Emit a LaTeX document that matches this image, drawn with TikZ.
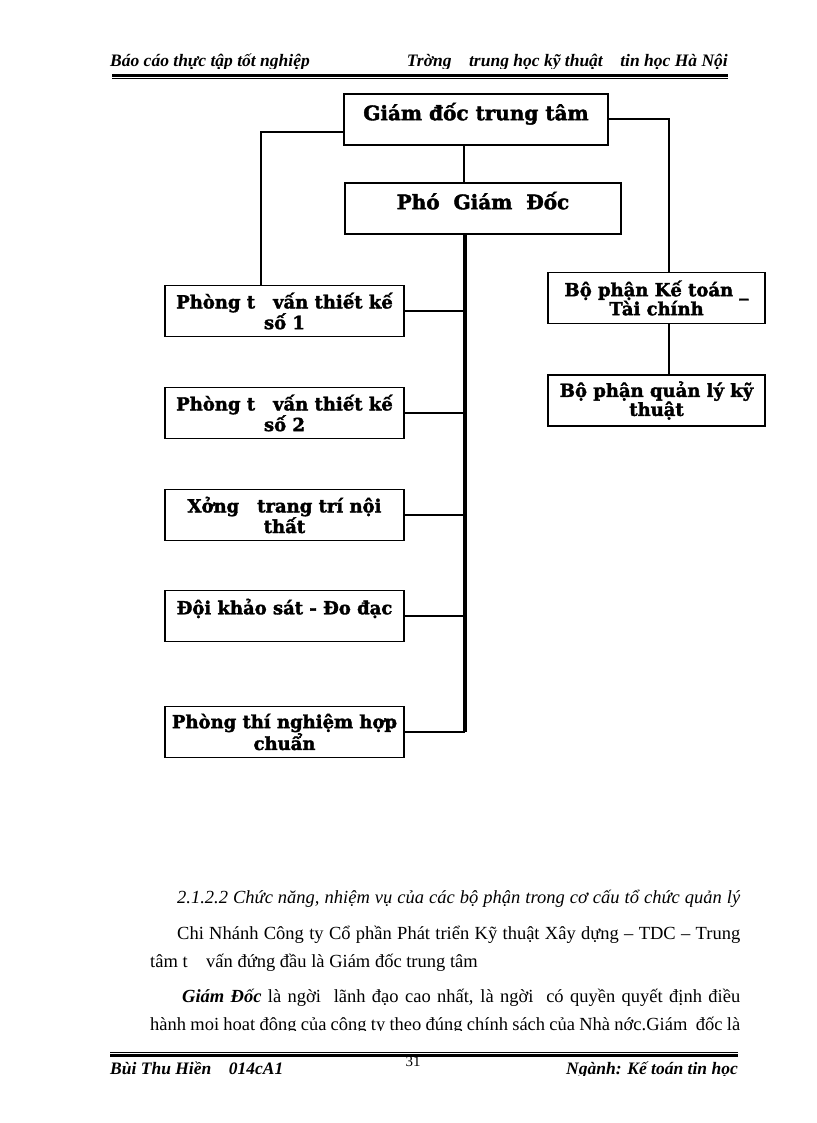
\documentclass[tikz,border=0pt]{standalone}
\usepackage{fontspec}
\setmainfont{Liberation Serif}
\newfontfamily\boxfont{DejaVu Serif}[BoldFeatures={FakeBold=2}]

\begin{document}
\begin{tikzpicture}[x=1pt,y=-1pt,
  box/.style={draw,line width=1.2pt,minimum width=#1,minimum height=51pt,inner sep=0pt,align=center,
    font=\boxfont\bfseries\fontsize{18}{19}\selectfont},
  bigbox/.style={box=#1,font=\boxfont\bfseries\fontsize{20}{16}\selectfont},
  link/.style={line width=1.8pt},
  trunkline/.style={line width=4pt},
  rule/.style={line width=#1},
  hdr/.style={inner sep=0pt,font=\bfseries\itshape\fontsize{17.5}{18}\selectfont},
  body/.style={inner sep=0pt,anchor=base west,font=\fontsize{18.5}{28}\selectfont}]

\useasboundingbox (0,0) rectangle (816,1123);

% header
\begin{scope}
\clip (0,0) rectangle (816,69);
\node[hdr,anchor=base west] (hleft) at (110,67) {Báo cáo thực tập tốt nghiệp};
\node[hdr,anchor=base east] (hright) at (728,67) {Trờng\quad trung học kỹ thuật\quad tin học Hà Nội};
\end{scope}
\draw[rule=2.5pt] (112,75.5) -- (728,75.5);
\draw[rule=1pt] (112,79) -- (728,79);

% boxes
\node[bigbox=264] (gd) at (476,119.5) {Giám đốc trung tâm\\\mbox{}};
\node[bigbox=276] (pgd) at (483,208.5) {Phó\ \ Giám\ \ Đốc\\\mbox{}};
\node[box=239] (p1) at (284.5,311) {Phòng t\quad vấn thiết kế\\số 1};
\node[box=239] (p2) at (284.5,413) {Phòng t\quad vấn thiết kế\\số 2};
\node[box=239] (xuong) at (284.5,515) {Xởng\quad trang trí nội\\thất};
\node[box=239] (doi) at (284.5,616) {Đội khảo sát - Đo đạc\\\mbox{}};
\node[box=239] (ptn) at (284.5,732) {Phòng thí nghiệm hợp\\chuẩn};
\node[box=217] (ketoan) at (656.5,298) {Bộ phận Kế toán \_\\Tài chính};
\node[box=217] (qlkt) at (656.5,400.5) {Bộ phận quản lý kỹ\\thuật};

% connectors
\draw[link] ([yshift=-12.5pt]gd.west) -| ([xshift=-23.5pt]p1.north);
\draw[link] ([yshift=0.5pt]gd.east) -| ([xshift=12.5pt]ketoan.north);
\draw[link] ([xshift=12.5pt]ketoan.south) -- ([xshift=12.5pt]qlkt.north);
\draw[link] ([xshift=-12pt]gd.south) -- ([xshift=-12pt]gd.south |- pgd.north);
\coordinate (tr) at ([xshift=-18pt]pgd.south);
\draw[trunkline] (tr) -- (tr |- ptn.east);
\foreach \b in {p1,p2,xuong,doi,ptn}
  \draw[link] (\b.east) -- (\b.east -| tr);

% text below the chart
\node[body] (sec) at (177,903) {\makebox[563pt][s]{\itshape 2.1.2.2 Chức năng, nhiệm vụ của các bộ phận trong cơ cấu tổ chức quản lý}};
\node[body] (l1) at (177,939) {\makebox[563pt][s]{Chi Nhánh Công ty Cổ phần Phát triển Kỹ thuật Xây dựng – TDC – Trung}};
\node[body] (l2) at (150,967) {tâm t\quad vấn đứng đầu là Giám đốc trung tâm};
\node[body] (l3) at (182,1002) {\makebox[558pt][s]{\textbf{\textit{Giám Đốc}} là ngời\ \ lãnh đạo cao nhất, là ngời\ \ có quyền quyết định điều}};
\begin{scope}
\clip (0,0) rectangle (816,1030);
\node[body] (l4) at (150,1030) {\makebox[590pt][s]{hành mọi hoạt động của công ty theo đúng chính sách của Nhà nớc.Giám\ \ đốc là}};
\end{scope}

% footer
\draw[rule=1pt] (110,1052) -- (738,1052);
\draw[rule=2.5pt] (110,1055.5) -- (738,1055.5);
\node[inner sep=0pt,font=\fontsize{15}{16}\selectfont] (page) at (413,1062) {31};
\begin{scope}
\clip (0,0) rectangle (816,1075);
\node[hdr,anchor=base west] (fleft) at (110,1074) {Bùi Thu Hiền\quad 014cA1};
\node[hdr,anchor=base east] (fright) at (738,1074) {Ngành: Kế toán tin học};
\end{scope}

\end{tikzpicture}
\end{document}
